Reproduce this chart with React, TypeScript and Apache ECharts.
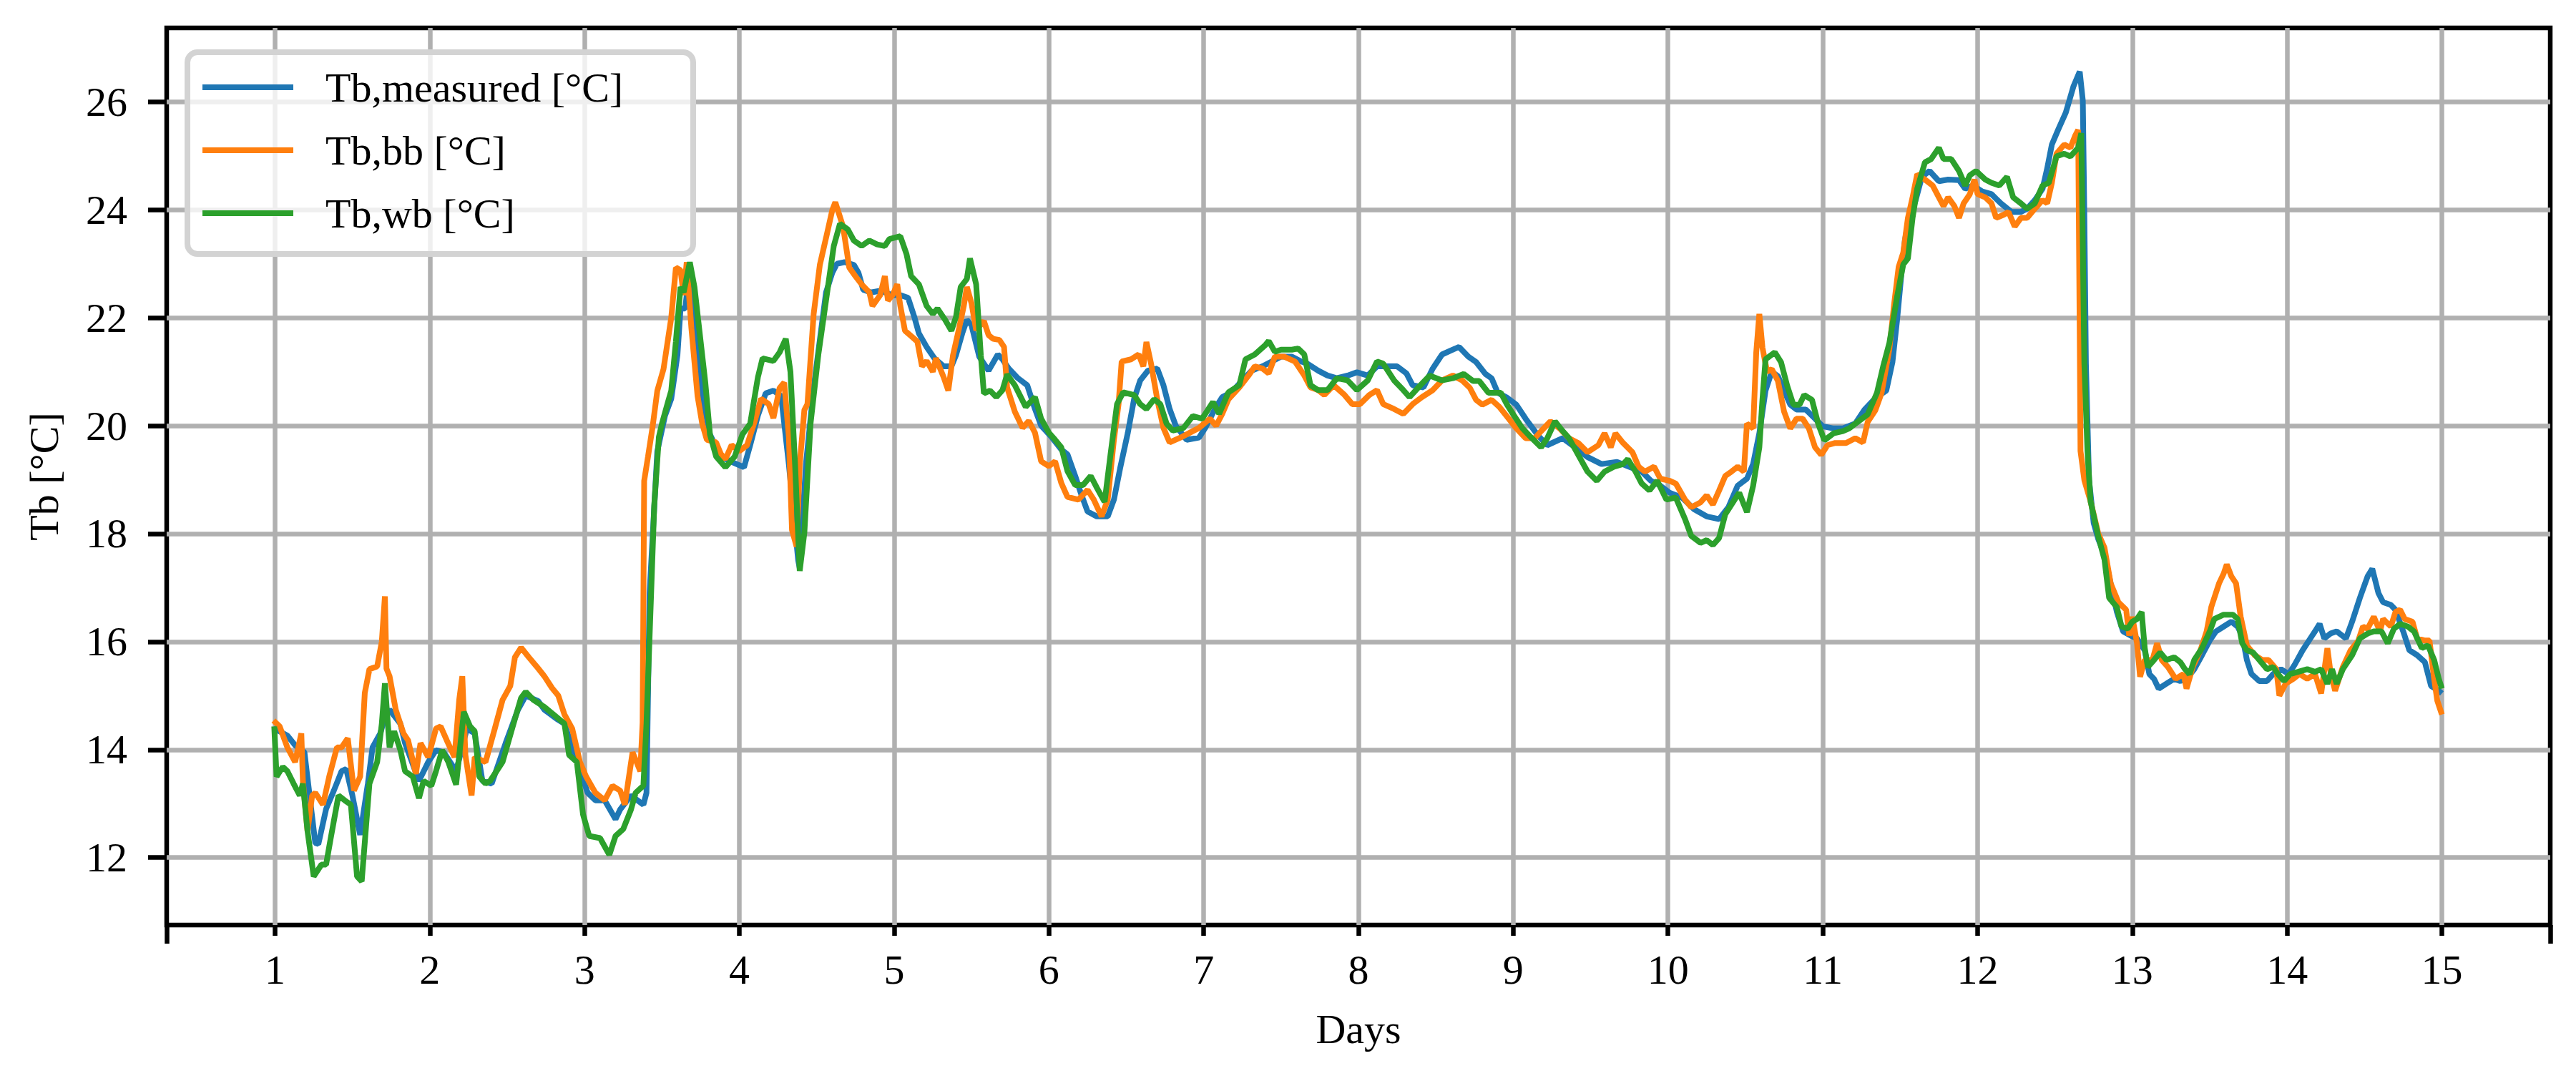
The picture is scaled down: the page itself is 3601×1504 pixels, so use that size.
import React, { useEffect, useRef } from "react";
import * as echarts from "echarts";

// ---- Data (day, temperature °C) ----
const seriesNames = ["Tb,measured [°C]", "Tb,bb [°C]", "Tb,wb [°C]"];
const seriesColors = ["#1f77b4", "#ff7f0e", "#2ca02c"];
const xTicks = [1, 2, 3, 4, 5, 6, 7, 8, 9, 10, 11, 12, 13, 14, 15];
const yTicks = [12, 14, 16, 18, 20, 22, 24, 26];
const xEnds = [0.3, 15.7];

const tbMeasured: [number, number][] = [
  [0.99,14.4],[1.08,14.26],[1.13,14.08],[1.19,13.95],[1.26,12.27],[1.28,12.25],[1.33,12.9],[1.38,13.24],[1.43,13.6],[1.46,13.64],[1.5,13.15],[1.55,12.42],[1.6,13.37],[1.63,14.04],[1.68,14.3],[1.71,14.6],[1.74,14.74],[1.81,14.48],[1.84,14.12],[1.93,13.42],[1.99,13.77],[2.04,13.99],[2.09,13.95],[2.17,13.6],[2.24,14.39],[2.29,14.3],[2.34,13.42],[2.4,13.37],[2.49,14.12],[2.57,14.74],[2.62,15.0],[2.7,14.9],[2.74,14.74],[2.82,14.57],[2.87,14.48],[2.93,13.95],[3.02,13.2],[3.07,13.06],[3.13,13.06],[3.2,12.71],[3.23,12.89],[3.3,13.15],[3.38,12.98],[3.4,13.2],
  [3.42,16.9],[3.47,19.53],[3.52,20.19],[3.56,20.5],[3.6,21.31],[3.62,22.17],[3.65,22.17],[3.67,22.67],[3.69,22.32],[3.73,21.31],[3.76,20.55],[3.81,19.84],[3.88,19.43],[3.95,19.33],[4.03,19.23],[4.07,19.64],[4.12,20.19],[4.17,20.6],[4.22,20.65],[4.27,20.55],[4.32,19.28],[4.38,17.51],[4.39,17.36],[4.43,19.28],[4.48,20.7],[4.53,21.81],[4.56,22.47],[4.6,22.83],[4.63,23.0],[4.68,23.03],[4.74,22.98],[4.77,22.83],[4.8,22.52],[4.85,22.47],[4.91,22.5],[4.99,22.42],[5.04,22.42],[5.09,22.37],[5.13,22.02],[5.16,21.71],[5.21,21.46],[5.26,21.25],[5.32,21.1],[5.37,21.1],[5.4,21.31],[5.44,21.71],[5.47,21.96],[5.5,21.86],
  [5.55,21.28],[5.61,21.02],[5.67,21.32],[5.7,21.23],[5.74,21.06],[5.8,20.88],[5.86,20.75],[5.91,20.31],[5.95,20.0],[6.02,19.78],[6.08,19.56],[6.12,19.47],[6.17,19.07],[6.21,18.72],[6.25,18.41],[6.31,18.32],[6.38,18.32],[6.42,18.63],[6.46,19.21],[6.51,19.87],[6.55,20.49],[6.59,20.84],[6.64,21.02],[6.7,21.06],[6.74,20.75],[6.78,20.31],[6.82,20.0],[6.89,19.74],[6.97,19.78],[7.01,19.96],[7.08,20.35],[7.12,20.53],[7.18,20.62],[7.25,20.84],[7.31,21.02],[7.38,21.1],[7.44,21.19],[7.5,21.28],[7.57,21.28],[7.63,21.19],[7.67,21.15],[7.74,21.02],[7.8,20.93],[7.86,20.88],[7.93,20.93],[7.99,20.99],[8.06,20.93],[8.12,21.1],[8.18,21.1],[8.25,21.1],[8.31,20.97],[8.35,20.75],[8.42,20.71],[8.48,21.06],[8.54,21.32],[8.61,21.41],[8.65,21.46],[8.71,21.28],[8.76,21.18],[8.82,20.96],
  [8.86,20.88],[8.9,20.61],[8.96,20.52],[9.02,20.39],[9.08,20.13],[9.16,19.82],[9.22,19.64],[9.32,19.77],[9.4,19.6],[9.48,19.42],[9.57,19.29],[9.67,19.33],[9.75,19.24],[9.83,19.15],[9.89,18.98],[9.95,18.89],[10.01,18.76],[10.09,18.67],[10.17,18.45],[10.25,18.32],[10.33,18.27],[10.39,18.49],[10.45,18.89],[10.51,19.02],[10.55,19.29],[10.59,19.86],[10.63,20.65],[10.67,21.0],[10.71,20.92],[10.75,20.65],[10.79,20.39],[10.83,20.3],[10.89,20.3],[10.95,20.13],[11.0,19.99],[11.07,19.95],[11.13,19.95],[11.21,20.04],[11.27,20.3],[11.33,20.48],[11.37,20.57],[11.41,20.65],[11.45,21.18],[11.48,21.96],[11.51,22.88],[11.53,23.42],[11.55,23.75],[11.6,24.18],[11.64,24.61],[11.69,24.72],[11.75,24.53],[11.81,24.56],[11.88,24.55],[11.92,24.39],[11.97,24.45],[12.03,24.34],[12.09,24.29],[12.15,24.12],[12.22,23.96],[12.28,23.96],[12.32,24.02],[12.37,24.18],[12.42,24.39],[12.45,24.77],[12.48,25.21],[12.52,25.48],[12.57,25.8],[12.62,26.29],[12.66,26.56],[12.68,26.02],[12.69,23.85],[12.7,21.15],[12.72,19.0],[12.75,18.2],[12.78,17.9],[12.82,17.61],
  [12.86,17.08],[12.9,16.55],[12.94,16.19],[12.99,16.11],[13.03,16.06],[13.08,15.84],[13.11,15.4],[13.14,15.31],[13.17,15.13],[13.22,15.22],[13.27,15.31],[13.31,15.27],[13.36,15.35],[13.4,15.49],[13.45,15.75],[13.5,16.02],[13.54,16.19],[13.59,16.28],[13.64,16.37],[13.68,16.28],[13.71,16.11],[13.74,15.66],[13.77,15.4],[13.82,15.27],[13.87,15.27],[13.91,15.4],[13.96,15.49],[14.01,15.4],[14.05,15.58],[14.1,15.84],[14.15,16.06],[14.18,16.19],[14.21,16.33],[14.24,16.06],[14.28,16.15],[14.32,16.19],[14.38,16.06],[14.42,16.37],[14.47,16.81],[14.52,17.21],[14.55,17.35],[14.59,16.9],[14.62,16.73],[14.67,16.68],[14.7,16.59],[14.75,16.19],[14.79,15.84],[14.84,15.75],[14.89,15.62],[14.93,15.18],[14.98,15.09],[15.0,15.04]
];

const tbBb: [number, number][] = [
  [0.99,14.54],[1.03,14.43],[1.08,14.04],[1.13,13.77],[1.17,14.3],[1.18,13.42],[1.21,12.49],[1.24,13.15],[1.26,13.2],[1.31,12.98],[1.35,13.5],[1.4,14.04],[1.43,14.04],[1.47,14.21],[1.51,13.24],[1.55,13.5],[1.58,15.05],[1.61,15.49],[1.66,15.54],[1.69,16.0],[1.71,16.84],[1.72,15.5],[1.74,15.36],[1.78,14.74],[1.83,14.3],[1.86,14.17],[1.91,13.55],[1.94,14.12],[1.99,13.86],[2.04,14.39],[2.07,14.43],[2.11,14.17],[2.16,13.86],[2.19,14.92],[2.21,15.36],[2.23,13.9],[2.27,13.15],[2.29,13.86],[2.36,13.77],[2.42,14.39],[2.47,14.92],[2.52,15.18],[2.55,15.71],[2.59,15.89],[2.64,15.71],[2.69,15.54],[2.74,15.36],[2.79,15.14],[2.83,15.0],[2.87,14.65],[2.92,14.39],[2.97,13.77],[3.01,13.5],[3.07,13.2],[3.13,13.06],[3.18,13.33],[3.23,13.24],[3.26,12.98],[3.31,13.95],[3.36,13.6],[3.375,14.5],
  [3.385,18.98],[3.41,19.43],[3.44,19.99],[3.47,20.65],[3.51,21.05],[3.56,22.0],[3.59,22.93],[3.62,22.88],[3.64,22.42],[3.66,23.03],[3.69,21.81],[3.73,20.55],[3.76,20.04],[3.79,19.74],[3.85,19.69],[3.88,19.48],[3.91,19.38],[3.95,19.64],[4.0,19.53],[4.05,19.64],[4.1,20.09],[4.14,20.5],[4.19,20.4],[4.22,20.14],[4.26,20.7],[4.29,20.8],[4.32,19.79],[4.34,18.07],[4.37,17.76],[4.39,19.28],[4.42,20.29],[4.44,20.4],[4.48,22.07],[4.52,22.98],[4.56,23.48],[4.6,23.99],[4.62,24.14],[4.67,23.69],[4.71,22.93],[4.75,22.77],[4.79,22.62],[4.84,22.47],[4.86,22.22],[4.91,22.42],[4.94,22.77],[4.96,22.32],[4.99,22.42],[5.02,22.62],[5.04,22.22],[5.07,21.76],[5.11,21.66],[5.15,21.56],[5.18,21.1],[5.21,21.2],[5.25,21.0],[5.27,21.25],[5.32,20.9],[5.35,20.65],[5.38,21.3],[5.42,21.81],[5.45,22.22],[5.47,22.57],[5.5,22.27],
  [5.53,21.77],[5.58,21.94],[5.61,21.68],[5.64,21.61],[5.68,21.59],[5.71,21.46],[5.73,20.71],[5.78,20.26],[5.83,19.96],[5.87,20.09],[5.91,19.87],[5.95,19.34],[6.0,19.25],[6.04,19.34],[6.08,18.94],[6.12,18.68],[6.19,18.63],[6.25,18.81],[6.29,18.63],[6.34,18.32],[6.38,18.63],[6.42,19.74],[6.45,20.4],[6.47,21.19],[6.53,21.23],[6.58,21.32],[6.61,21.1],[6.63,21.55],[6.66,21.15],[6.7,20.49],[6.74,19.96],[6.78,19.69],[6.85,19.78],[6.91,19.87],[6.97,19.96],[7.04,20.13],[7.08,20.0],[7.12,20.22],[7.16,20.49],[7.23,20.71],[7.29,20.93],[7.33,21.1],[7.38,21.06],[7.42,20.97],[7.46,21.28],[7.52,21.28],[7.59,21.19],[7.65,20.93],[7.69,20.71],[7.74,20.66],[7.78,20.57],[7.84,20.75],[7.91,20.57],[7.96,20.4],[8.01,20.4],[8.07,20.57],[8.12,20.66],[8.16,20.4],[8.23,20.31],[8.29,20.22],[8.35,20.4],[8.41,20.53],[8.48,20.66],[8.54,20.84],[8.61,20.93],[8.67,20.84],
  [8.72,20.7],[8.76,20.48],[8.8,20.39],[8.86,20.48],[8.91,20.35],[8.96,20.17],[9.02,19.95],[9.08,19.77],[9.14,19.77],[9.18,19.9],[9.24,20.08],[9.3,19.95],[9.36,19.77],[9.42,19.68],[9.48,19.51],[9.55,19.64],[9.59,19.86],[9.63,19.6],[9.66,19.86],[9.71,19.68],[9.77,19.51],[9.81,19.24],[9.85,19.15],[9.91,19.24],[9.95,19.02],[10.01,18.98],[10.05,18.93],[10.11,18.63],[10.15,18.49],[10.21,18.58],[10.25,18.71],[10.29,18.54],[10.33,18.8],[10.37,19.07],[10.41,19.15],[10.45,19.24],[10.49,19.15],[10.51,20.04],[10.55,19.95],[10.57,21.36],[10.59,22.07],[10.61,21.45],[10.64,21.0],[10.67,21.05],[10.71,20.83],[10.75,20.26],[10.79,19.95],[10.83,20.13],[10.87,20.13],[10.91,19.95],[10.95,19.6],[10.99,19.46],[11.03,19.64],[11.08,19.68],[11.15,19.68],[11.21,19.77],[11.26,19.69],[11.29,20.07],[11.34,20.29],[11.38,20.61],[11.43,21.42],[11.46,22.23],[11.49,22.94],[11.52,23.21],[11.55,23.85],[11.58,24.23],[11.61,24.66],[11.66,24.56],[11.71,24.45],[11.75,24.23],[11.78,24.07],[11.81,24.23],[11.85,24.07],[11.88,23.85],[11.91,24.12],[11.95,24.29],[11.98,24.56],[12.0,24.29],[12.05,24.23],[12.09,24.12],[12.12,23.85],[12.17,23.91],[12.2,23.96],[12.24,23.69],[12.28,23.85],[12.32,23.85],[12.37,24.02],[12.42,24.18],[12.45,24.12],[12.48,24.5],[12.51,25.04],[12.56,25.21],[12.6,25.15],[12.63,25.37],[12.65,25.48],[12.66,21.69],[12.665,19.53],[12.69,18.99],[12.73,18.6],[12.78,18.0],
  [12.82,17.74],[12.86,17.08],[12.91,16.73],[12.96,16.59],[12.98,16.11],[13.0,16.46],[13.03,15.97],[13.05,15.35],[13.08,15.66],[13.13,15.66],[13.16,15.97],[13.19,15.66],[13.23,15.53],[13.28,15.31],[13.33,15.4],[13.35,15.13],[13.39,15.53],[13.44,15.84],[13.48,16.19],[13.51,16.64],[13.56,17.08],[13.59,17.26],[13.61,17.43],[13.64,17.21],[13.67,17.08],[13.7,16.46],[13.74,15.93],[13.79,15.75],[13.84,15.66],[13.88,15.66],[13.93,15.49],[13.95,15.0],[13.99,15.22],[14.04,15.31],[14.08,15.4],[14.13,15.31],[14.18,15.4],[14.22,15.04],[14.26,15.88],[14.28,15.44],[14.31,15.09],[14.36,15.53],[14.41,15.84],[14.46,16.02],[14.49,16.28],[14.52,16.24],[14.56,16.46],[14.6,16.19],[14.62,16.42],[14.67,16.28],[14.7,16.55],[14.73,16.59],[14.76,16.42],[14.81,16.37],[14.84,16.06],[14.89,16.02],[14.92,16.02],[14.95,15.31],[14.97,14.91],[15.0,14.65]
];

const tbWb: [number, number][] = [
  [0.995,14.43],[1.01,13.5],[1.05,13.68],[1.08,13.6],[1.12,13.37],[1.16,13.15],[1.18,13.37],[1.21,12.49],[1.25,11.65],[1.3,11.87],[1.33,11.87],[1.36,12.36],[1.41,13.15],[1.45,13.06],[1.49,12.98],[1.53,11.65],[1.56,11.56],[1.61,13.37],[1.66,13.77],[1.69,14.48],[1.71,15.23],[1.74,14.04],[1.77,14.34],[1.81,13.99],[1.84,13.6],[1.89,13.5],[1.93,13.1],[1.96,13.42],[2.01,13.33],[2.04,13.6],[2.08,13.99],[2.12,13.77],[2.17,13.35],[2.22,14.7],[2.26,14.43],[2.29,14.34],[2.32,13.5],[2.36,13.37],[2.39,13.42],[2.44,13.64],[2.47,13.77],[2.51,14.17],[2.55,14.57],[2.59,14.96],[2.62,15.07],[2.67,14.92],[2.74,14.79],[2.8,14.65],[2.87,14.48],[2.9,13.9],[2.95,13.77],[2.99,12.8],[3.03,12.4],[3.1,12.36],[3.16,12.05],[3.2,12.4],[3.25,12.53],[3.3,12.89],[3.33,13.2],[3.38,13.33],[3.4,14.48],[3.43,16.9],
  [3.45,18.52],[3.48,19.79],[3.5,20.04],[3.54,20.45],[3.56,20.65],[3.59,21.56],[3.62,22.57],[3.64,22.47],[3.68,23.03],[3.71,22.57],[3.74,21.81],[3.78,20.8],[3.81,19.84],[3.85,19.43],[3.91,19.23],[3.97,19.43],[4.02,19.84],[4.07,20.04],[4.12,20.9],[4.15,21.25],[4.22,21.2],[4.26,21.36],[4.3,21.61],[4.33,21.0],[4.36,19.28],[4.39,17.31],[4.42,18.02],[4.46,20.04],[4.51,21.31],[4.56,22.32],[4.61,23.33],[4.65,23.74],[4.7,23.64],[4.74,23.43],[4.79,23.33],[4.84,23.43],[4.89,23.36],[4.94,23.33],[4.97,23.46],[5.04,23.51],[5.08,23.18],[5.11,22.77],[5.16,22.62],[5.21,22.22],[5.25,22.07],[5.28,22.17],[5.33,21.96],[5.37,21.76],[5.4,22.02],[5.43,22.57],[5.47,22.72],[5.49,23.1],[5.53,22.62],[5.56,21.31],[5.58,20.6],[5.62,20.65],[5.66,20.53],[5.7,20.66],[5.73,20.95],[5.78,20.75],[5.85,20.35],[5.91,20.53],[5.95,20.13],
  [6.0,19.87],[6.04,19.74],[6.08,19.6],[6.12,19.16],[6.17,18.9],[6.22,18.9],[6.27,19.07],[6.31,18.85],[6.36,18.59],[6.4,19.51],[6.44,20.4],[6.48,20.62],[6.55,20.57],[6.59,20.4],[6.63,20.31],[6.68,20.49],[6.72,20.4],[6.76,20.04],[6.8,19.91],[6.87,19.96],[6.93,20.18],[6.99,20.13],[7.06,20.44],[7.1,20.22],[7.16,20.62],[7.23,20.75],[7.27,21.23],[7.33,21.32],[7.4,21.5],[7.42,21.57],[7.46,21.37],[7.5,21.41],[7.57,21.41],[7.61,21.43],[7.65,21.32],[7.69,20.75],[7.74,20.66],[7.8,20.66],[7.86,20.88],[7.93,20.84],[7.99,20.66],[8.06,20.84],[8.12,21.19],[8.16,21.15],[8.23,20.84],[8.29,20.66],[8.33,20.53],[8.4,20.75],[8.46,20.93],[8.54,20.84],[8.61,20.88],[8.68,20.96],[8.74,20.83],[8.78,20.83],[8.84,20.61],[8.92,20.61],[8.96,20.39],
  [9.0,20.21],[9.06,19.95],[9.12,19.77],[9.18,19.6],[9.22,19.77],[9.27,20.08],[9.32,19.9],[9.36,19.77],[9.42,19.46],[9.48,19.15],[9.54,18.98],[9.59,19.15],[9.65,19.24],[9.71,19.29],[9.74,19.38],[9.79,19.15],[9.83,18.93],[9.88,18.8],[9.93,18.98],[9.99,18.63],[10.05,18.67],[10.11,18.27],[10.15,17.96],[10.21,17.83],[10.25,17.88],[10.29,17.79],[10.33,17.92],[10.37,18.36],[10.41,18.54],[10.46,18.76],[10.49,18.54],[10.51,18.4],[10.55,18.89],[10.59,19.6],[10.61,20.48],[10.63,21.23],[10.69,21.36],[10.73,21.18],[10.77,20.74],[10.81,20.39],[10.85,20.39],[10.88,20.57],[10.93,20.48],[10.97,20.04],[11.01,19.73],[11.07,19.86],[11.13,19.9],[11.17,19.95],[11.23,20.08],[11.29,20.21],[11.35,20.61],[11.39,21.1],[11.43,21.53],[11.48,22.39],[11.52,22.99],[11.55,23.1],[11.58,23.85],[11.61,24.39],[11.66,24.88],[11.7,24.94],[11.75,25.15],[11.78,24.94],[11.83,24.94],[11.88,24.72],[11.92,24.45],[11.95,24.64],[11.99,24.72],[12.05,24.56],[12.09,24.5],[12.14,24.45],[12.19,24.61],[12.23,24.23],[12.28,24.12],[12.32,24.02],[12.37,24.12],[12.42,24.45],[12.46,24.5],[12.51,24.99],[12.56,25.04],[12.6,24.99],[12.65,25.15],[12.67,25.42],[12.68,23.31],[12.69,21.15],[12.71,19.53],[12.73,18.6],[12.78,17.95],
  [12.82,17.52],[12.85,16.81],[12.9,16.64],[12.93,16.28],[12.97,16.24],[13.0,16.37],[13.03,16.42],[13.06,16.55],[13.08,15.88],[13.1,15.53],[13.14,15.66],[13.18,15.8],[13.22,15.66],[13.27,15.71],[13.31,15.62],[13.34,15.49],[13.37,15.4],[13.4,15.66],[13.45,15.88],[13.5,16.19],[13.53,16.42],[13.59,16.5],[13.65,16.5],[13.68,16.42],[13.71,15.97],[13.74,15.84],[13.78,15.8],[13.82,15.66],[13.87,15.49],[13.91,15.53],[13.94,15.4],[13.98,15.27],[14.02,15.4],[14.07,15.44],[14.13,15.49],[14.18,15.44],[14.22,15.49],[14.26,15.22],[14.29,15.49],[14.32,15.22],[14.36,15.49],[14.42,15.75],[14.47,16.06],[14.52,16.15],[14.56,16.19],[14.61,16.19],[14.65,15.97],[14.69,16.24],[14.73,16.33],[14.78,16.28],[14.82,16.19],[14.87,15.88],[14.91,15.93],[14.95,15.66],[14.98,15.31],[15.0,15.13]
];

const seriesData = [tbMeasured, tbBb, tbWb];

const FONT = "Liberation Serif";
const FS = 58;
const LINE_W = 8;
const FRAME_W = 6.5;

export default function App() {
  const ref = useRef<HTMLDivElement>(null);
  useEffect(() => {
    if (!ref.current) return;
    const chart = echarts.init(ref.current, undefined, { renderer: "svg" });
    const option: any = {
      animation: false,
      backgroundColor: "#ffffff",
      grid: {
        left: 233,
        right: 36,
        top: 39,
        bottom: 211,
        show: true,
        borderColor: "#000",
        borderWidth: FRAME_W,
        backgroundColor: "transparent",
      },
      legend: {
        orient: "vertical",
        left: 262,
        top: 73,
        data: seriesNames.map((n) => ({ name: n, icon: "rect" })),
        itemWidth: 127,
        itemHeight: LINE_W,
        itemGap: 28,
        padding: [19, 24, 27, 21],
        backgroundColor: "rgba(255,255,255,0.8)",
        borderColor: "#d3d3d3",
        borderWidth: 8,
        borderRadius: 14,
        itemStyle: { borderWidth: 0 },
        textStyle: {
          fontFamily: FONT,
          fontSize: FS,
          color: "#000",
          lineHeight: 60,
          width: 490,
          padding: [0, 0, 0, 40],
        },
      },
      xAxis: [
        {
          type: "value",
          min: 0.3,
          max: 15.7,
          name: "Days",
          nameLocation: "middle",
          nameGap: 116,
          nameTextStyle: { fontFamily: FONT, fontSize: FS, color: "#000" },
          axisLine: { show: false },
          axisTick: { show: true, length: 15, customValues: xTicks, lineStyle: { color: "#000", width: FRAME_W } },
          axisLabel: { customValues: xTicks, margin: 33, fontFamily: FONT, fontSize: FS, color: "#000" },
          splitLine: { show: true, lineStyle: { color: "#b0b0b0", width: FRAME_W } },
        },
        {
          type: "value",
          min: 0.3,
          max: 15.7,
          position: "bottom",
          axisLine: { show: false },
          axisTick: { show: true, length: 26, customValues: xEnds, lineStyle: { color: "#000", width: FRAME_W } },
          axisLabel: { show: false },
          splitLine: { show: false },
        },
      ],
      yAxis: {
        type: "value",
        min: 10.75,
        max: 27.37,
        name: "Tb [°C]",
        nameLocation: "middle",
        nameGap: 143,
        nameRotate: 90,
        nameTextStyle: { fontFamily: FONT, fontSize: FS, color: "#000" },
        axisLine: { show: false },
        axisTick: { show: true, length: 26, customValues: yTicks, lineStyle: { color: "#000", width: FRAME_W } },
        axisLabel: { customValues: yTicks, margin: 55, fontFamily: FONT, fontSize: FS, color: "#000" },
        splitLine: { show: true, lineStyle: { color: "#b0b0b0", width: FRAME_W } },
      },
      series: seriesData.map((d, i) => ({
        name: seriesNames[i],
        type: "line",
        xAxisIndex: 0,
        data: d,
        symbol: "none",
        showSymbol: false,
        itemStyle: { color: seriesColors[i] },
        lineStyle: { color: seriesColors[i], width: LINE_W },
        z: 3 + i,
      })),
    };
    chart.setOption(option);
    return () => chart.dispose();
  }, []);
  return (
    <div
      ref={ref}
      style={{ position: "fixed", left: 0, top: 0, width: 3601, height: 1504, background: "#fff" }}
    />
  );
}
